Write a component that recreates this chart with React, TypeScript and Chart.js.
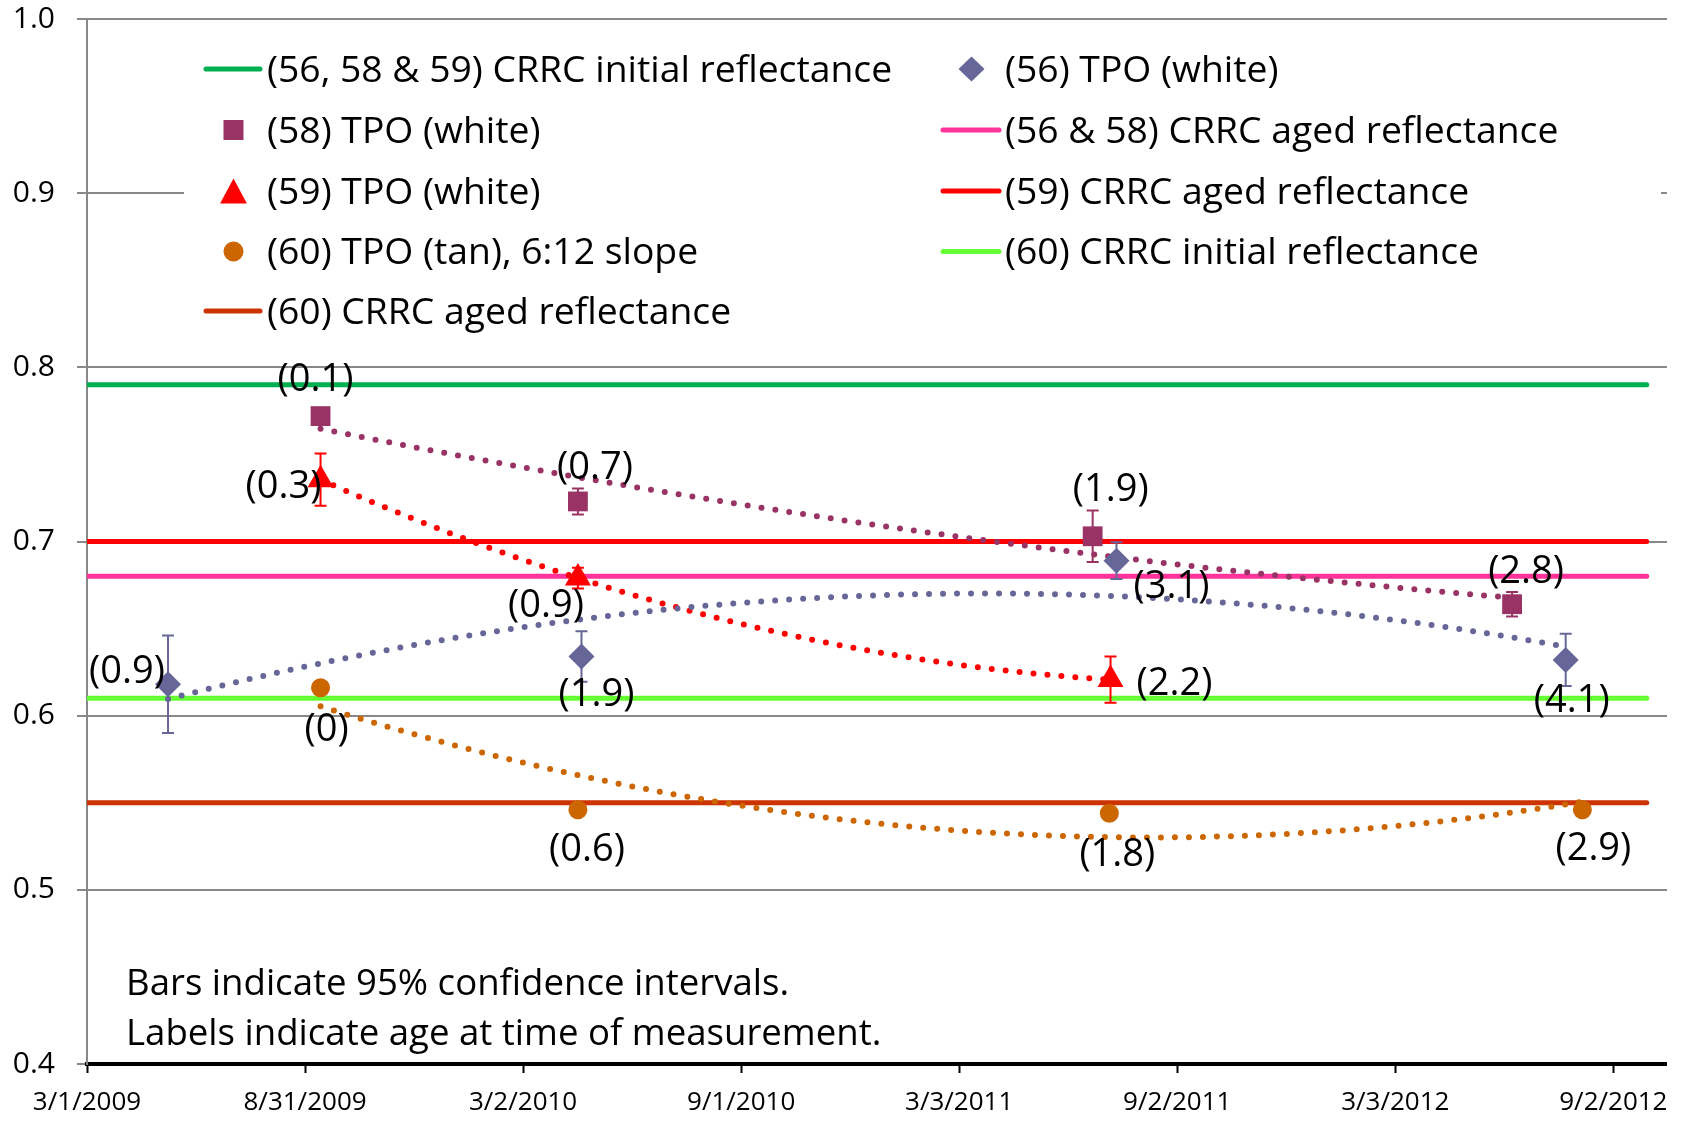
import React, { useEffect, useRef } from 'react';
import { Chart, registerables } from 'chart.js';

Chart.register(...registerables);

const FONT = '"Open Sans", "Noto Sans", "DejaVu Sans", sans-serif';

// ------------------------------------------------------------------ data
const X_TICK_LABELS = ['3/1/2009', '8/31/2009', '3/2/2010', '9/1/2010', '3/3/2011', '9/2/2011', '3/3/2012', '9/2/2012'];
const X_AXIS_START = '3/1/2009';
const X_AXIS_END = '10/17/2012';
const Y_MIN = 0.4;
const Y_MAX = 1.0;
const Y_STEP = 0.1;

const TPO56_NAME = '(56) TPO (white)';
const TPO56_DATES = ['5/8/2009', '4/20/2010', '7/13/2011', '7/24/2012'];
const TPO56_VALUES = [0.618, 0.634, 0.689, 0.632];
const TPO56_ERRORS = [0.028, 0.0145, 0.0105, 0.015];
const TPO56_LABELS = ['(0.9)', '(1.9)', '(3.1)', '(4.1)'];

const TPO58_NAME = '(58) TPO (white)';
const TPO58_DATES = ['9/13/2009', '4/17/2010', '6/23/2011', '6/9/2012'];
const TPO58_VALUES = [0.772, 0.723, 0.703, 0.664];
const TPO58_ERRORS = [0.003, 0.0075, 0.0148, 0.007];
const TPO58_LABELS = ['(0.1)', '(0.7)', '(1.9)', '(2.8)'];

const TPO59_NAME = '(59) TPO (white)';
const TPO59_DATES = ['9/13/2009', '4/17/2010', '7/8/2011'];
const TPO59_VALUES = [0.7355, 0.679, 0.6207];
const TPO59_ERRORS = [0.015, 0.006, 0.0133];
const TPO59_LABELS = ['(0.3)', '(0.9)', '(2.2)'];

const TPO60_NAME = '(60) TPO (tan), 6:12 slope';
const TPO60_DATES = ['9/13/2009', '4/17/2010', '7/7/2011', '8/7/2012'];
const TPO60_VALUES = [0.616, 0.546, 0.544, 0.546];
const TPO60_LABELS = ['(0)', '(0.6)', '(1.8)', '(2.9)'];

const REF_NAMES = [
  '(56, 58 & 59) CRRC initial reflectance',
  '(56 & 58) CRRC aged reflectance',
  '(59) CRRC aged reflectance',
  '(60) CRRC initial reflectance',
  '(60) CRRC aged reflectance',
];
const REF_VALUES = [0.79, 0.68, 0.7, 0.61, 0.55];
const REF_DATES = ['3/1/2009', '9/30/2012'];

const ANNOTATION_LINES = ['Bars indicate 95% confidence intervals.', 'Labels indicate age at time of measurement.'];

// ------------------------------------------------------------------ styles
const REF_COLORS = ['#00B050', '#FF3399', '#FF0000', '#66FF33', '#CC3300'];
const TPO56_LABEL_OFFSETS = [[-41, -13], [15, 38], [55, 26], [6, 40]];
const TPO58_LABEL_OFFSETS = [[-5, -37], [17, -34], [18, -47], [14, -33]];
const TPO59_LABEL_OFFSETS = [[-37, 7], [-32, 27], [64, 4]];
const TPO60_LABEL_OFFSETS = [[6, 41], [9, 39], [8, 41], [11, 38]];
const LABEL_BASELINE_SHIFT = 1;

const GRID_COLOR = '#888888';
const PLOT_TOP = 19;

// ------------------------------------------------------------------ helpers
const BASE_UTC = Date.UTC(2009, 2, 1);
function toDays(s: string): number {
  const [m, d, y] = s.split('/').map(Number);
  return Math.round((Date.UTC(y, m - 1, d) - BASE_UTC) / 86400000);
}
function fromDays(v: number): string {
  const dt = new Date(BASE_UTC + Math.round(v) * 86400000);
  return `${dt.getUTCMonth() + 1}/${dt.getUTCDate()}/${dt.getUTCFullYear()}`;
}

// Polynomial (order 2) least-squares trendline, as in the original spreadsheet chart
function quadFit(xs: number[], ys: number[]): number[] {
  let n = xs.length, sx = 0, sx2 = 0, sx3 = 0, sx4 = 0, sy = 0, sxy = 0, sx2y = 0;
  for (let i = 0; i < xs.length; i++) {
    const x = xs[i] / 1000;
    const y = ys[i];
    const x2 = x * x;
    sx += x; sx2 += x2; sx3 += x2 * x; sx4 += x2 * x2;
    sy += y; sxy += x * y; sx2y += x2 * y;
  }
  const M = [[n, sx, sx2], [sx, sx2, sx3], [sx2, sx3, sx4]];
  const B = [sy, sxy, sx2y];
  const det3 = (m: number[][]) =>
    m[0][0] * (m[1][1] * m[2][2] - m[1][2] * m[2][1]) -
    m[0][1] * (m[1][0] * m[2][2] - m[1][2] * m[2][0]) +
    m[0][2] * (m[1][0] * m[2][1] - m[1][1] * m[2][0]);
  const D = det3(M);
  return [0, 1, 2].map((c) => det3(M.map((row, r) => row.map((v, k) => (k === c ? B[r] : v)))) / D);
}
function trendline(dates: string[], values: number[]) {
  const xs = dates.map(toDays);
  const [a, b, c] = quadFit(xs, values);
  const x0 = Math.min(...xs);
  const x1 = Math.max(...xs);
  const pts: { x: number; y: number }[] = [];
  const steps = 120;
  for (let i = 0; i <= steps; i++) {
    const x = x0 + ((x1 - x0) * i) / steps;
    const t = x / 1000;
    pts.push({ x, y: a + b * t + c * t * t });
  }
  return pts;
}

type MarkerSeries = {
  key: string;
  name: string;
  dates: string[];
  values: number[];
  errors: number[] | null;
  labels: string[];
  color: string;
  pointStyle: string;
  radius: number;
  labelOffsets: number[][];
};

const MARKER_SERIES: MarkerSeries[] = [
  { key: 's56', name: TPO56_NAME, dates: TPO56_DATES, values: TPO56_VALUES, errors: TPO56_ERRORS, labels: TPO56_LABELS, color: '#666699', pointStyle: 'rectRot', radius: 13, labelOffsets: TPO56_LABEL_OFFSETS },
  { key: 's58', name: TPO58_NAME, dates: TPO58_DATES, values: TPO58_VALUES, errors: TPO58_ERRORS, labels: TPO58_LABELS, color: '#993366', pointStyle: 'rect', radius: 14, labelOffsets: TPO58_LABEL_OFFSETS },
  { key: 's59', name: TPO59_NAME, dates: TPO59_DATES, values: TPO59_VALUES, errors: TPO59_ERRORS, labels: TPO59_LABELS, color: '#FF0000', pointStyle: 'triangle', radius: 15, labelOffsets: TPO59_LABEL_OFFSETS },
  { key: 's60', name: TPO60_NAME, dates: TPO60_DATES, values: TPO60_VALUES, errors: null, labels: TPO60_LABELS, color: '#CC6600', pointStyle: 'circle', radius: 9.5, labelOffsets: TPO60_LABEL_OFFSETS },
];

const LEGEND_ORDER: ({ kind: 'ref'; idx: number } | { kind: 'marker'; key: string })[] = [
  { kind: 'ref', idx: 0 },
  { kind: 'marker', key: 's56' },
  { kind: 'marker', key: 's58' },
  { kind: 'ref', idx: 1 },
  { kind: 'marker', key: 's59' },
  { kind: 'ref', idx: 2 },
  { kind: 'marker', key: 's60' },
  { kind: 'ref', idx: 3 },
  { kind: 'ref', idx: 4 },
];
const LEGEND_BOX = { left: 184, top: 36, right: 1661, bottom: 342 };
const LEGEND_COLS = [
  { lineX0: 206, lineX1: 260, markerX: 233.5, textX: 267 },
  { lineX0: 943, lineX1: 999, markerX: 971.5, textX: 1005 },
];
const LEGEND_ROWS_Y = [69, 130, 191, 251.5, 311];

function drawLegendMarker(ctx: CanvasRenderingContext2D, style: string, x: number, y: number, color: string) {
  ctx.fillStyle = color;
  ctx.beginPath();
  if (style === 'rect') {
    ctx.rect(x - 10, y - 10, 20, 20);
  } else if (style === 'rectRot') {
    ctx.moveTo(x, y - 12.5);
    ctx.lineTo(x + 13, y);
    ctx.lineTo(x, y + 12.5);
    ctx.lineTo(x - 13, y);
    ctx.closePath();
  } else if (style === 'triangle') {
    ctx.moveTo(x, y - 12.5);
    ctx.lineTo(x + 13.4, y + 12.5);
    ctx.lineTo(x - 13.4, y + 12.5);
    ctx.closePath();
  } else {
    ctx.arc(x, y, 10, 0, Math.PI * 2);
  }
  ctx.fill();
}

const overlayPlugin = {
  id: 'overlay',
  afterDatasetsDraw(chart: any) {
    const ctx: CanvasRenderingContext2D = chart.ctx;
    const xs = chart.scales.x;
    const ys = chart.scales.y;
    ctx.save();

    // error bars
    MARKER_SERIES.forEach((s) => {
      if (!s.errors) return;
      ctx.strokeStyle = s.color;
      ctx.lineWidth = 2;
      s.values.forEach((v, i) => {
        const e = s.errors![i];
        const px = xs.getPixelForValue(toDays(s.dates[i]));
        const yt = ys.getPixelForValue(v + e);
        const yb = ys.getPixelForValue(v - e);
        ctx.beginPath();
        ctx.moveTo(px, yt);
        ctx.lineTo(px, yb);
        ctx.moveTo(px - 6, yt);
        ctx.lineTo(px + 6, yt);
        ctx.moveTo(px - 6, yb);
        ctx.lineTo(px + 6, yb);
        ctx.stroke();
      });
    });

    // data labels
    ctx.font = `38px ${FONT}`;
    ctx.fillStyle = '#000';
    ctx.textAlign = 'center';
    ctx.textBaseline = 'middle';
    MARKER_SERIES.forEach((s) => {
      s.labels.forEach((lab, i) => {
        const px = xs.getPixelForValue(toDays(s.dates[i]));
        const py = ys.getPixelForValue(s.values[i]);
        const [dx, dy] = s.labelOffsets[i];
        ctx.fillText(lab, px + dx, py + dy + LABEL_BASELINE_SHIFT);
      });
    });

    // legend
    ctx.fillStyle = '#fff';
    ctx.fillRect(LEGEND_BOX.left, LEGEND_BOX.top, LEGEND_BOX.right - LEGEND_BOX.left, LEGEND_BOX.bottom - LEGEND_BOX.top);
    LEGEND_ORDER.forEach((item, i) => {
      const col = LEGEND_COLS[i % 2];
      const y = LEGEND_ROWS_Y[Math.floor(i / 2)];
      let name = '';
      if (item.kind === 'ref') {
        name = REF_NAMES[item.idx];
        ctx.strokeStyle = REF_COLORS[item.idx];
        ctx.lineWidth = 5;
        ctx.lineCap = 'round';
        ctx.beginPath();
        ctx.moveTo(col.lineX0, y);
        ctx.lineTo(col.lineX1, y);
        ctx.stroke();
      } else {
        const s = MARKER_SERIES.find((m) => m.key === item.key)!;
        name = s.name;
        drawLegendMarker(ctx, s.pointStyle, col.markerX, y, s.color);
      }
      ctx.fillStyle = '#000';
      ctx.font = `37.3px ${FONT}`;
      ctx.textAlign = 'left';
      ctx.textBaseline = 'alphabetic';
      ctx.fillText(name, col.textX, y + 12.7);
    });

    // annotation
    ctx.font = `36.6px ${FONT}`;
    ctx.fillStyle = '#000';
    ctx.textAlign = 'left';
    ctx.textBaseline = 'alphabetic';
    ANNOTATION_LINES.forEach((line, i) => {
      ctx.fillText(line, 126, 995 + i * 50);
    });

    ctx.restore();
  },
};

export default function App() {
  const canvasRef = useRef<HTMLCanvasElement>(null);

  useEffect(() => {
    const canvas = canvasRef.current;
    if (!canvas) return;

    const datasets: any[] = [];
    // markers (drawn on top)
    MARKER_SERIES.forEach((s) => {
      datasets.push({
        label: s.name,
        data: s.dates.map((d, i) => ({ x: toDays(d), y: s.values[i] })),
        showLine: false,
        pointStyle: s.pointStyle,
        pointRadius: s.radius,
        pointHoverRadius: s.radius,
        backgroundColor: s.color,
        borderColor: s.color,
        pointBorderWidth: 0,
        order: 1,
      });
    });
    // trendlines
    MARKER_SERIES.forEach((s) => {
      datasets.push({
        label: s.name + ' trend',
        data: trendline(s.dates, s.values),
        showLine: true,
        pointRadius: 0,
        pointHoverRadius: 0,
        borderColor: s.color,
        borderWidth: 6,
        borderDash: [0, 14],
        borderCapStyle: 'round',
        tension: 0,
        order: 2,
      });
    });
    // reference lines
    REF_NAMES.forEach((name, i) => {
      datasets.push({
        label: name,
        data: REF_DATES.map((d) => ({ x: toDays(d), y: REF_VALUES[i] })),
        showLine: true,
        pointRadius: 0,
        pointHoverRadius: 0,
        borderColor: REF_COLORS[i],
        borderWidth: 5,
        borderCapStyle: 'round',
        order: 3,
      });
    });

    const chart = new Chart(canvas, {
      type: 'scatter',
      data: { datasets },
      options: {
        responsive: false,
        maintainAspectRatio: false,
        animation: false,
        devicePixelRatio: 1,
        events: [],
        layout: { padding: { top: 0, right: 15, left: 0, bottom: 0 } },
        plugins: {
          legend: { display: false },
          tooltip: { enabled: false },
        },
        scales: {
          x: {
            type: 'linear',
            min: toDays(X_AXIS_START),
            max: toDays(X_AXIS_END),
            afterBuildTicks: (scale: any) => {
              scale.ticks = X_TICK_LABELS.map((l) => ({ value: toDays(l) }));
            },
            afterFit: (scale: any) => {
              scale.height = 58;
            },
            ticks: {
              callback: (v: any) => fromDays(Number(v)),
              font: { family: FONT, size: 26 },
              color: '#000',
              maxRotation: 0,
              minRotation: 0,
              autoSkip: false,
              padding: 14,
            },
            grid: {
              drawOnChartArea: false,
              drawTicks: true,
              tickLength: 9,
              tickColor: '#000',
              tickWidth: 2,
            },
            border: { display: true, color: '#000', width: 4 },
          },
          y: {
            type: 'linear',
            min: Y_MIN,
            max: Y_MAX,
            afterFit: (scale: any) => {
              scale.width = 87;
              scale.paddingTop = PLOT_TOP;
              scale.paddingBottom = 0;
            },
            ticks: {
              stepSize: Y_STEP,
              callback: (v: any) => Number(v).toFixed(1),
              font: { family: FONT, size: 30 },
              color: '#000',
              padding: 22,
            },
            grid: {
              color: GRID_COLOR,
              lineWidth: 2,
              drawTicks: true,
              tickLength: 10,
              tickColor: GRID_COLOR,
            },
            border: { display: true, color: GRID_COLOR, width: 2 },
          },
        },
      } as any,
      plugins: [overlayPlugin],
    });

    return () => chart.destroy();
  }, []);

  return (
    <div style={{ position: 'absolute', left: 0, top: 0, width: 1682, height: 1122, background: '#fff' }}>
      <canvas ref={canvasRef} width={1682} height={1122} style={{ display: 'block', width: 1682, height: 1122 }} />
    </div>
  );
}
